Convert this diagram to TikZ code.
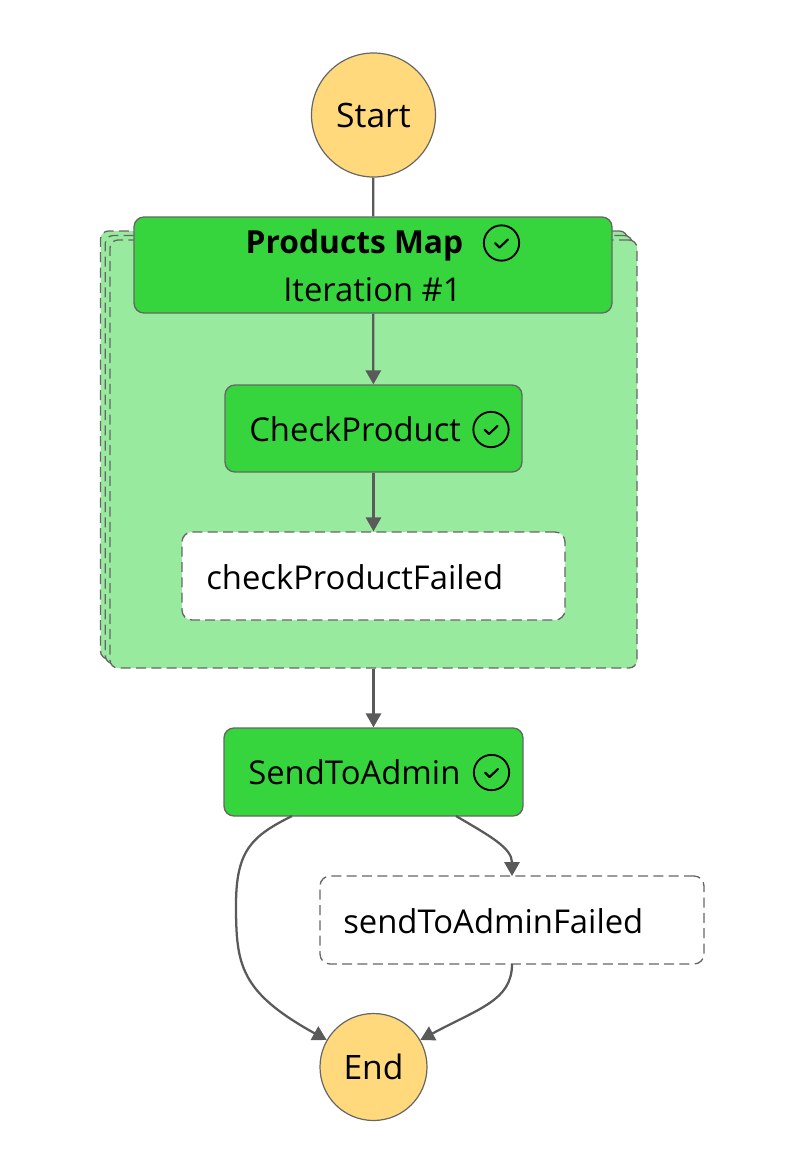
\documentclass[tikz,border=0pt]{standalone}
\usepackage{fontspec}
\setmainfont{Open Sans}
\usetikzlibrary{arrows.meta,calc}
\definecolor{stategreen}{HTML}{37D53D}
\definecolor{stacklight}{HTML}{98EB9E}
\definecolor{termorange}{HTML}{FFD97C}
\definecolor{edgegray}{HTML}{5A5A5A}
\definecolor{bordergray}{HTML}{666666}
\tikzset{
	term/.style={circle,draw=bordergray,fill=termorange,line width=0.9pt,inner sep=0pt,font=\fontsize{25.2}{30}\selectfont},
	doneState/.style={rectangle,rounded corners=7.5pt,draw=bordergray,fill=stategreen,line width=1pt},
	openState/.style={rectangle,rounded corners=7.5pt,draw=bordergray,fill=white,line width=1pt,dash pattern=on 7.5pt off 4pt},
	stackState/.style={rectangle,rounded corners=6pt,draw=bordergray,fill=stacklight,line width=1pt,dash pattern=on 7.5pt off 4pt,minimum width=395.25pt,minimum height=321pt},
	label/.style={inner sep=0pt,font=\fontsize{24.6}{30}\selectfont},
	okCircle/.style={circle,draw=black,line width=1.4pt,inner sep=0pt,minimum size=#1},
	edge/.style={draw=edgegray,line width=1.7pt},
	arrow/.style={edge,-{Triangle[length=10.5pt,width=11.5pt]}}
}
\newcommand{\okTick}[1]{\draw[black,line width=1.6pt,line cap=round,line join=round] ($(#1)+(-6.5,0)$) -- ($(#1)+(-2,4.5)$) -- ($(#1)+(6.5,-3.5)$);}
\begin{document}
\begin{tikzpicture}[x=0.75pt,y=-0.75pt]
			\useasboundingbox (0,0) rectangle (798,1164);
			\node[stackState] (stackBack) at (364,445) {};
			\node[stackState] (stackMiddle) at (368.8,449.5) {};
			\node[stackState] (stackFront) at (373.5,454) {};

			\node[term,minimum size=93pt] (start) at (373.5,115) {Start};
			\node[doneState,minimum width=358.5pt,minimum height=72pt] (map) at (373,265) {};
			\node[doneState,minimum width=222.75pt,minimum height=65.25pt] (checkProduct) at (373.5,428.5) {};
			\node[openState,minimum width=287.25pt,minimum height=66pt] (checkFailed) at (373.5,576) {};
			\node[doneState,minimum width=224.25pt,minimum height=66pt] (sendAdmin) at (373.5,772) {};
			\node[openState,minimum width=288pt,minimum height=66pt] (sendFailed) at (512,920) {};
			\node[term,minimum size=80.25pt] (end) at (373.5,1067) {End};

			\node[label,font=\fontsize{23.8}{30}\selectfont\bfseries] (mapTitle) at (354.5,245) {Products Map};
			\node[label] (mapIter) at (372.5,290) {Iteration \#1};
			\node[label,anchor=west] (checkText) at (249,429.5) {CheckProduct};
			\node[label,anchor=west] (checkFailedText) at (206,577) {checkProductFailed};
			\node[label,anchor=west] (sendText) at (248,772.5) {SendToAdmin};
			\node[label,anchor=west] (sendFailedText) at (343,921) {sendToAdminFailed};

			\node[okCircle=26.5pt] (mapOk) at (501.5,243) {};
			\node[okCircle=26.5pt] (checkOk) at (491,429.5) {};
			\node[okCircle=26.5pt] (sendOk) at (491.5,772.5) {};
			\okTick{mapOk}
			\okTick{checkOk}
			\okTick{sendOk}

			\coordinate (sendLeft) at (292,816);
			\coordinate (sendRight) at (456,816);
			\coordinate (failedIn) at (512,876);
			\coordinate (failedOut) at (512,964);

			\draw[edge] (start) -- (map);
			\draw[arrow] (map) -- (checkProduct);
			\draw[arrow] (checkProduct) -- (checkFailed);
			\draw[arrow] (stackFront) -- (sendAdmin);
			\draw[arrow] (sendLeft) .. controls (252,836) and (236,850) .. (236,905) .. controls (236,965) and (240,992) .. (end.150);
			\draw[arrow] (sendRight) .. controls (490,836) and (512,848) .. (failedIn);
			\draw[arrow] (failedOut) .. controls (512,1000) and (480,1008) .. (end.30);
		\end{tikzpicture}
\end{document}
